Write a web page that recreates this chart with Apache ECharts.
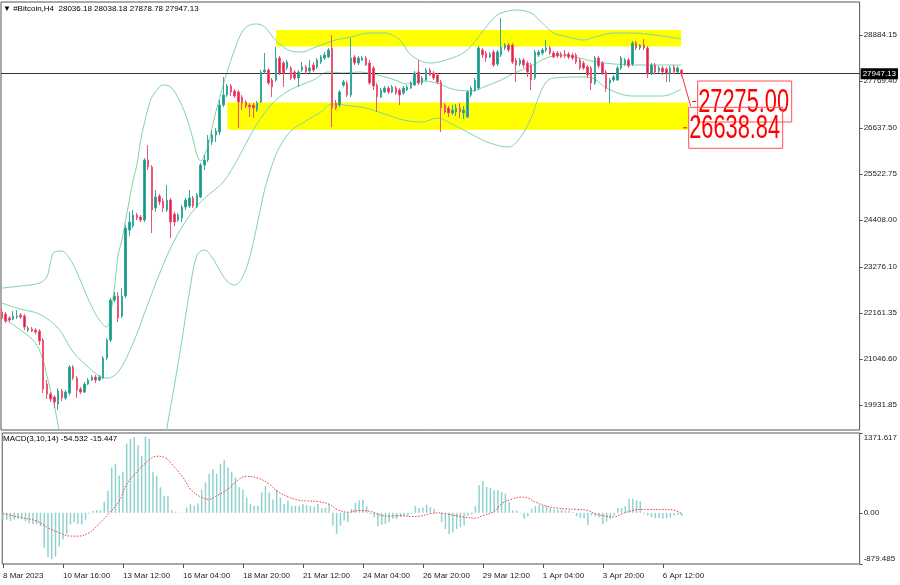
<!DOCTYPE html>
<html><head><meta charset="utf-8">
<script src="https://cdn.jsdelivr.net/npm/echarts@6/dist/echarts.min.js"></script>
<style>html,body{margin:0;padding:0;background:#fff}#c{width:900px;height:585px}</style>
</head><body><div id="c"></div><script>
// ---- tick labels ----
const timeLabels = ["8 Mar 2023","10 Mar 16:00","13 Mar 12:00","16 Mar 04:00","18 Mar 20:00","21 Mar 12:00","24 Mar 04:00","26 Mar 20:00","29 Mar 12:00","1 Apr 04:00","3 Apr 20:00","6 Apr 12:00"];
const timeTickBars = [0,16,32,48,64,80,96,112,128,144,160,176];
const priceTicks = [28884.15,27769.40,26637.50,25522.75,24408.00,23276.10,22161.35,21046.60,19931.85];
const macdTicks = [1371.617,0,-879.485];
const macdTickLabels = ["1371.617","0.00","-879.485"];
const priceRange = [19326.95,29682.6];
const macdRange = [-879.485,1371.617];
const barRange = [-0.2,228.5];

// ---- header values ----
const symbolName = "#Bitcoin,H4";
const lastOHLC = [28036.18,28038.18,27878.78,27947.13];
const lastPrice = 27947.13;
const macdName = "MACD(3,10,14)";
const macdLast = [-54.532,-15.447];

// ---- candles (H4 bars, index 0 = 8 Mar 2023 00:00) ----
const opens = [22181,22132,22035,22011,22060,22108,22084,21745,21769,21745,
21721,21503,20438,20196,20124,19954,20269,20100,20221,20850,
20583,20317,20245,20438,20535,20608,20535,20583,21067,21503,
22471,22568,22084,22568,24165,24262,24528,24480,24407,25859,
25690,24698,24988,24867,24649,24891,24552,24407,24455,24722,
24746,24939,24722,24964,25738,25859,26295,26464,26537,27190,
27432,27650,27529,27505,27384,27263,27190,27190,27069,27263,
27989,28037,27795,27795,28327,28206,28085,28085,27989,27843,
28037,28110,28013,28158,28110,28231,28327,28352,28570,27238,
27190,27674,27722,27432,28352,28206,28279,28327,28206,28085,
27674,27384,27505,27601,27505,27601,27553,27480,27553,27601,
27674,27989,27722,27795,28037,27964,27916,27747,27190,27117,
26996,27021,27117,26996,26900,27432,27553,27601,28521,28448,
28352,28473,28182,28400,28570,28642,28642,28279,28182,28279,
28206,28158,27843,28400,28448,28521,28570,28448,28448,28424,
28424,28424,28400,28400,28279,28206,28110,28085,27722,28327,
28206,27989,27722,27795,27795,28085,28182,28279,28182,28690,
28570,28642,28570,27964,28158,28013,28085,28061,27964,28110,
27989,28036.18];
const closes = [22035,21963,21987,22084,22084,22060,21818,21793,21721,21697,
21479,20317,20196,20076,20003,20269,20100,20245,20850,20583,
20293,20245,20438,20535,20608,20535,20608,21067,21503,22471,
22568,22035,22568,24213,24359,24528,24455,24407,25859,25690,
24649,24964,24843,24698,24891,24359,24359,24528,24722,24891,
24939,24746,25012,25738,25859,26343,26464,26561,27190,27432,
27650,27505,27408,27263,27238,27166,27142,27117,27238,27989,
28037,27722,27626,28327,27964,27964,28231,27843,27843,27989,
28110,27989,28085,28037,28279,28352,28400,28521,27117,27117,
27505,27747,27432,28327,28206,28327,28327,28158,27722,27650,
27384,27553,27601,27505,27626,27480,27432,27601,27626,27722,
27964,27722,27843,28037,27916,27843,27747,27117,27021,26996,
27069,27117,27021,27069,27505,27601,27795,28570,28400,28327,
28424,28158,28473,28594,28642,28521,28231,28158,28279,28158,
27989,27795,28473,28473,28521,28570,28448,28352,28376,28352,
28376,28352,28327,28231,28085,28085,27916,27722,28327,28134,
27964,27601,27795,27868,28085,28327,28279,28134,28690,28570,
28642,28570,27964,28158,27989,28085,27989,27964,28085,27989,
28085,27947.13];
const highs = [22278,22181,22084,22205,22229,22157,22132,21842,21818,21793,
21769,21551,20535,20245,20172,20341,20317,20293,20898,20898,
20632,20366,20487,20583,20656,20656,20656,21116,21551,22519,
22665,22665,22761,24286,24601,24649,24577,24528,25907,26222,
25738,25133,25036,24939,25254,24939,24601,24577,24770,24939,
25133,24988,25060,25786,25980,26464,26585,26633,27311,27868,
27698,27698,27577,27553,27432,27311,27238,27238,27287,28037,
28448,28085,27843,28594,28376,28255,28279,28134,28037,28037,
28231,28158,28279,28231,28327,28400,28473,28570,28884,27311,
27553,27795,27771,28811,28400,28376,28376,28376,28279,28134,
27722,27601,27650,27650,27674,27650,27601,27650,27674,27771,
28013,28279,27892,28085,28085,28013,27964,27795,27238,27166,
27190,27214,27238,27166,27553,27650,27843,28618,28570,28497,
28473,28521,28521,29295,28690,28690,28690,28327,28327,28327,
28255,28206,28521,28521,28570,28763,28618,28497,28497,28473,
28521,28473,28448,28448,28327,28255,28158,28134,28376,28376,
28255,28037,27843,27916,28134,28376,28327,28327,28739,28739,
28666,28787,28618,28206,28206,28134,28134,28110,28134,28158,
28134,28038.18];
const lows = [21987,21915,21939,21987,22011,22011,21745,21697,21697,21648,
21382,20221,20076,20003,19858,19809,20027,20051,20172,20535,
20100,20196,20221,20414,20511,20462,20511,20559,21019,21455,
22423,21939,22035,22519,24020,24213,24407,24359,24359,25617,
24092,24601,24770,24601,24601,23971,24262,24359,24359,24649,
24698,24698,24698,24939,25617,25811,26222,26295,26464,27142,
27384,27408,27359,26633,27069,27117,26900,26875,27021,27238,
27940,27674,27384,27747,27916,27626,28037,27795,27795,27626,
27989,27940,27964,27989,28061,28182,28279,28327,26658,27069,
27142,27626,27384,27384,28158,28158,28255,28134,27674,27553,
27021,27359,27480,27456,27480,27432,27190,27432,27529,27577,
27650,27674,27674,27771,27892,27795,27698,26537,26972,26900,
26948,26924,26875,26851,26875,27384,27505,27553,28327,28231,
28327,28110,28134,28352,28521,28473,28182,27747,28134,28085,
27868,27553,27795,28352,28400,28473,28400,28327,28327,28327,
28327,28303,28279,28182,28037,28037,27843,27553,27674,28085,
27916,27505,27238,27747,27771,28037,28134,28085,28134,28521,
28521,28521,27843,27916,27940,27964,27916,27747,27747,27940,
27964,27878.78];

// ---- Bollinger bands: [bar, price] ----
const upperBand = [[0,22761],[5,22810],[10,22882],[12,23028],[13,23391],[14,23633],[16,23657],[18,23487],[20,23149],[22,22713],[24,22302],[26,21987],[28,21818],[29,22132],[30,22761],[31,23560],[32,23923],[33,24407],[34,24891],[35,25375],[36,25738],[37,26343],[38,26755],[39,27117],[40,27384],[42,27626],[43,27674],[45,27626],[47,27359],[49,26948],[51,26343],[52,25980],[53,25835],[54,25980],[55,26222],[57,27021],[59,27674],[60,27989],[62,28521],[64,28957],[66,29126],[68,29150],[70,29078],[72,28860],[74,28666],[77,28497],[80,28473],[83,28570],[88,28739],[93,28836],[98,28932],[102,28932],[106,28763],[109,28400],[114,28206],[120,28327],[124,28521],[128,28957],[131,29295],[133,29416],[137,29489],[141,29416],[144,29174],[147,28932],[151,28836],[155,28763],[158,28836],[163,28932],[168,28932],[174,28884],[181,28787]];
const middleBand = [[0,22399],[5,22253],[10,22132],[15,21793],[19,21213],[23,20850],[26,20632],[28,20583],[31,20729],[35,21431],[39,22399],[44,23536],[48,24238],[52,24746],[55,25012],[59,25327],[63,25907],[67,26585],[71,27117],[75,27456],[79,27650],[83,27795],[87,27989],[91,27964],[95,27989],[99,27940],[104,27819],[108,27698],[112,27771],[116,27722],[120,27577],[125,27529],[129,27650],[133,27795],[136,27940],[141,28134],[145,28327],[149,28400],[154,28327],[157,28255],[163,28182],[172,28158],[181,28158]];
const lowerBand = [[0,22060],[5,21745],[9,21431],[11,21019],[12,20656],[13,20293],[14,19930],[15,19446],[16,18962],[30,'-'],[43,18720],[44,19374],[46,20414],[48,21503],[50,22665],[52,23560],[54,23681],[56,23512],[58,23197],[60,22931],[62,22834],[64,23004],[66,23487],[68,24286],[70,25133],[72,25738],[74,26174],[77,26561],[81,26803],[85,27021],[88,27214],[93,27166],[97,27117],[102,26972],[107,26827],[112,26779],[116,26875],[120,26730],[125,26488],[130,26270],[135,26174],[138,26391],[141,26875],[143,27384],[145,27747],[147,27843],[155,27868],[158,27819],[161,27601],[168,27408],[176,27408],[181,27577]];

// ---- MACD histogram (per bar) and signal line ----
const macdHist = [-110,-120,-140,-120,-100,-110,-150,-180,-190,-200,
-230,-600,-760,-800,-750,-580,-460,-370,-200,-160,
-190,-200,-120,-15,30,45,45,190,380,780,
840,640,700,1190,1270,1300,1160,980,1310,1270,
700,640,440,290,290,45,20,5,-5,90,
150,120,160,400,520,670,750,670,840,910,
780,700,610,440,400,260,150,120,120,350,
460,350,230,400,260,150,210,120,120,120,
150,135,120,105,150,80,90,150,-220,-360,
-220,-130,-160,69,173,214,225,115,-20,-75,
-231,-208,-190,-162,-104,-104,-75,-58,-46,-17,
115,81,92,139,98,69,0,-162,-277,-364,
-335,-277,-248,-219,-46,-30,115,473,543,445,
427,387,387,358,329,185,40,40,-10,-104,
-58,69,115,139,127,115,81,58,58,58,
35,40,12,-58,-92,-92,-208,-46,-58,-75,
-190,-150,-104,-46,81,81,115,242,242,214,
196,-17,-46,-75,-92,-92,-104,-92,-75,-46,
-35,-54.532];
const macdSignal = [[0,-14],[5,-84],[9,-141],[12,-257],[15,-343],[18,-400],[20,-401],[23,-343],[25,-228],[28,-26],[31,205],[33,494],[36,725],[39,909],[41,973],[43,955],[45,840],[48,609],[50,407],[53,263],[55,234],[57,292],[60,407],[63,580],[65,626],[68,597],[71,494],[73,378],[76,274],[79,216],[81,205],[84,193],[87,147],[89,61],[92,10],[95,40],[98,23],[101,-46],[103,-58],[106,-46],[109,-64],[111,-58],[114,-17],[116,0],[118,-17],[120,-40],[123,-75],[126,-92],[128,-46],[131,23],[133,156],[136,242],[138,271],[140,254],[142,185],[145,115],[148,81],[150,69],[153,58],[156,40],[158,-17],[161,-58],[163,-70],[165,-20],[167,23],[170,58],[172,58],[176,58],[179,46],[181,-15.447]];

// ---- drawn objects: zones [startBar, endBar, topPrice, bottomPrice] and price labels ----
const zones = [[73.1,180.9,29005,28606],[60.1,182.8,27250,26590]];
const levelLabels = [27275.00,26638.84];
const levelLabelBars = [184.7,182.3];
const arrowLine = [[181,27960],[183.5,27166]];

const FONT = '"Liberation Sans","Arial",sans-serif';
const candleData = opens.map((o,i)=>[i,o,closes[i],lows[i],highs[i]]);
const histData = macdHist.map((v,i)=>[i,v]);
const levelData = levelLabels.map((v,k)=>[levelLabelBars[k],v]);

function renderLevel(params, api){
  const p = api.coord([api.value(0), api.value(1)]);
  const txt = api.value(1).toFixed(2);
  return {type:'group', children:[
    {type:'line', shape:{x1:p[0]-3,y1:p[1],x2:p[0]+1,y2:p[1]}, style:{stroke:'#ff0000',lineWidth:1}},
    {type:'rect', shape:{x:p[0]+2.5,y:p[1]-20.5,width:94,height:41}, style:{fill:null,stroke:'#ff5050',lineWidth:1}},
    {type:'text', x:p[0]+3, y:p[1]+1, scaleX:0.66,
     style:{text:txt, fill:'#ff0000', font:'33px "Liberation Sans", Arial, sans-serif', verticalAlign:'middle', align:'left'}}
  ]};
}

const chart = echarts.init(document.getElementById('c'));
chart.setOption({
  animation:false,
  backgroundColor:'#fff',
  textStyle:{fontFamily:FONT},
  title:[
    {text:'\u25BC '+symbolName+'  '+lastOHLC.map(v=>v.toFixed(2)).join(' '), left:3, top:5, padding:0,
     textStyle:{fontSize:8,fontWeight:'normal',color:'#000',fontFamily:FONT}},
    {text:macdName+' '+macdLast.map(v=>v.toFixed(3)).join(' '), left:3, top:435, padding:0,
     textStyle:{fontSize:8,fontWeight:'normal',color:'#000',fontFamily:FONT}}
  ],
  grid:[
    {left:1,top:2,width:861,height:428,show:true,borderColor:'#555',borderWidth:1},
    {left:1,top:433,width:861,height:131,show:true,borderColor:'#555',borderWidth:1}
  ],
  xAxis:[
    {type:'value',gridIndex:0,min:barRange[0],max:barRange[1],axisLine:{show:false,onZero:false},axisTick:{show:false},axisLabel:{show:false},splitLine:{show:false}},
    {type:'value',gridIndex:1,min:barRange[0],max:barRange[1],position:'bottom',axisLine:{show:false,onZero:false},
     axisTick:{show:true,customValues:timeTickBars,length:4,lineStyle:{color:'#555'}},
     axisLabel:{customValues:timeTickBars,align:'left',margin:8,fontSize:8,color:'#222',fontFamily:FONT,
       formatter:v=>{const k=timeTickBars.indexOf(Math.round(v));return k>=0?timeLabels[k]:'';}},
     splitLine:{show:false}}
  ],
  yAxis:[
    {type:'value',gridIndex:0,position:'right',min:priceRange[0],max:priceRange[1],
     axisLine:{show:false,onZero:false},splitLine:{show:false},
     axisTick:{show:true,customValues:priceTicks,length:3,lineStyle:{color:'#555'}},
     axisLabel:{customValues:priceTicks,margin:4,fontSize:8,color:'#222',fontFamily:FONT,formatter:v=>v.toFixed(2)}},
    {type:'value',gridIndex:1,position:'right',min:macdRange[0],max:macdRange[1],
     axisLine:{show:false,onZero:false},splitLine:{show:false},
     axisTick:{show:true,customValues:macdTicks,length:3,lineStyle:{color:'#555'}},
     axisLabel:{customValues:macdTicks,margin:4,fontSize:8,color:'#222',fontFamily:FONT,
       formatter:v=>{let k=0,d=1e9;macdTicks.forEach((t,j)=>{if(Math.abs(t-v)<d){d=Math.abs(t-v);k=j;}});
         return k===0?'{t|'+macdTickLabels[k]+'}':(k===2?'{b|'+macdTickLabels[k]+'}':macdTickLabels[k]);},
       rich:{t:{padding:[10,0,0,0],fontSize:8,fontFamily:FONT,color:'#222'},b:{padding:[0,0,10,0],fontSize:8,fontFamily:FONT,color:'#222'}}}}
  ],
  series:[
    {type:'line',xAxisIndex:0,yAxisIndex:0,data:[],z:1,silent:true,
     markArea:{silent:true,itemStyle:{color:'#ffff00',opacity:1},
       data:zones.map(z=>[{coord:[z[0],z[2]]},{coord:[z[1],z[3]]}])}},
    {type:'line',xAxisIndex:0,yAxisIndex:0,data:upperBand,smooth:0.35,symbol:'none',z:3,lineStyle:{color:'#7fd4aa',width:1}},
    {type:'line',xAxisIndex:0,yAxisIndex:0,data:middleBand,smooth:0.35,symbol:'none',z:3,lineStyle:{color:'#7fd4aa',width:1}},
    {type:'line',xAxisIndex:0,yAxisIndex:0,data:lowerBand,smooth:0.35,symbol:'none',z:3,connectNulls:false,lineStyle:{color:'#7fd4aa',width:1}},
    {type:'candlestick',xAxisIndex:0,yAxisIndex:0,data:candleData,encode:{x:0,y:[1,2,3,4]},barWidth:2,z:5,
     itemStyle:{color:'#13998a',color0:'#e61e4d',borderColor:'#37a99b',borderColor0:'#ec5573',borderWidth:1}},
    {type:'line',xAxisIndex:0,yAxisIndex:0,data:[],z:6,
     markLine:{silent:true,symbol:'none',lineStyle:{color:'#333',width:1,type:'solid'},
       label:{show:true,position:'end',distance:1,formatter:lastPrice.toFixed(2),backgroundColor:'#000',color:'#fff',padding:[2,2,1,2],fontSize:8,fontFamily:FONT},
       data:[{yAxis:lastPrice}]}},
    {type:'line',xAxisIndex:0,yAxisIndex:0,data:arrowLine,symbol:'none',z:7,lineStyle:{color:'#ff3030',width:1}},
    {type:'custom',xAxisIndex:0,yAxisIndex:0,data:levelData,renderItem:renderLevel,z:8,clip:false,silent:true},
    {type:'bar',xAxisIndex:1,yAxisIndex:1,data:histData,barWidth:1.5,itemStyle:{color:'#8fd3d0'},z:3},
    {type:'line',xAxisIndex:1,yAxisIndex:1,data:macdSignal,smooth:0.4,symbol:'none',z:4,lineStyle:{color:'#f03c3c',width:1,type:[1.5,1.5]}}
  ]
});
</script></body></html>
